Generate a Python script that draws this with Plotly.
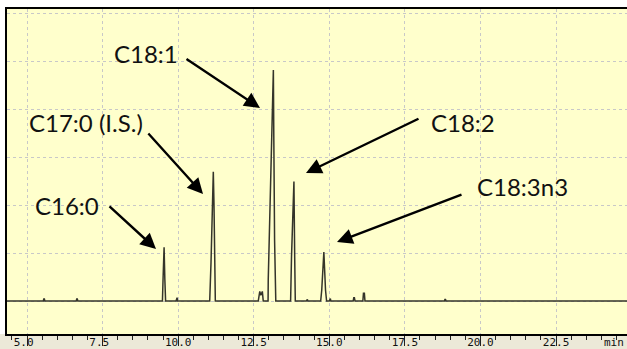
import plotly.graph_objects as go

# ---- data (time in min, signal in grid units) ----
baseline_start = [4.33]
baseline_end = [24.9]

dot1_t = [5.54, 5.555, 5.575, 5.59]
dot1_v = [0, 0.04, 0.04, 0]
dot2_t = [6.63, 6.645, 6.665, 6.68]
dot2_v = [0, 0.04, 0.04, 0]

c16_t = [9.48, 9.50, 9.535, 9.56, 9.585]
c16_v = [0, 0.45, 1.12, 0.45, 0]

dot3_t = [9.93, 9.945, 9.965, 9.98]
dot3_v = [0, 0.07, 0.07, 0]

c17_t = [11.044, 11.087, 11.13, 11.163, 11.186, 11.203, 11.23]
c17_v = [0, 0.8, 2.0, 2.69, 2.0, 0.8, 0]

small_t = [12.65, 12.68, 12.70, 12.735, 12.76, 12.785, 12.815]
small_v = [0, 0.2, 0.2, 0.12, 0.2, 0.2, 0]

c181_t = [12.975, 12.98, 13.005, 13.05, 13.085, 13.15, 13.165, 13.19, 13.23]
c181_v = [0, 0.44, 1.13, 2.17, 3.35, 4.81, 3.35, 1.27, 0]

c182_t = [13.72, 13.75, 13.83, 13.855, 13.875]
c182_v = [0, 0.92, 2.49, 0.92, 0]

dot4_t = [14.24, 14.255, 14.275, 14.29]
dot4_v = [0, 0.03, 0.03, 0]

c183_t = [14.715, 14.75, 14.82, 14.875, 14.91]
c183_v = [0, 0.23, 1.02, 0.23, 0]

dot5_t = [15.0, 15.015, 15.035, 15.05]
dot5_v = [0, 0.05, 0.05, 0]

dot6_t = [15.79, 15.81, 15.83, 15.85]
dot6_v = [0, 0.07, 0.07, 0]

small2_t = [16.11, 16.13, 16.16, 16.18]
small2_v = [0, 0.16, 0.16, 0]

dot7_t = [18.81, 18.825, 18.845, 18.86]
dot7_v = [0, 0.03, 0.03, 0]

tick_vals = [5.0, 7.5, 10.0, 12.5, 15.0, 17.5, 20.0, 22.5]
tick_text = ["5.0\u00a0", "7.5\u00a0", "10.0", "12.5", "15.0", "17.5", "20.0", "22.5"]

peak_labels = ["C16:0", "C17:0 (I.S.)", "C18:1", "C18:2", "C18:3n3"]

# ---- assemble trace ----
segments_t = [baseline_start, dot1_t, dot2_t, c16_t, dot3_t, c17_t, small_t, c181_t,
              c182_t, dot4_t, c183_t, dot5_t, dot6_t, small2_t, dot7_t, baseline_end]
segments_v = [[0], dot1_v, dot2_v, c16_v, dot3_v, c17_v, small_v, c181_v,
              c182_v, dot4_v, c183_v, dot5_v, dot6_v, small2_v, dot7_v, [0]]
t_all, v_all = [], []
for ts, vs in zip(segments_t, segments_v):
    t_all += ts
    v_all += vs

W, H = 627, 349
L, R, T, B = 7, 0, 9, 15
PW, PH = W - L - R, H - T - B

def px(x):
    return (x - L) / PW

def py(y):
    return (H - B - y) / PH

fig = go.Figure()
fig.add_trace(go.Scatter(x=t_all, y=v_all, mode="lines",
                         line=dict(color="#34342a", width=1.5),
                         hoverinfo="skip", showlegend=False))

# text labels (pixel centres)
label_pos = [(67, 205), (86, 122), (146, 54), (463, 122), (522, 186)]
annotations = []
for txt, (x, y) in zip(peak_labels, label_pos):
    annotations.append(dict(text=txt, x=px(x), y=py(y), xref="paper", yref="paper",
                            xanchor="center", yanchor="middle", showarrow=False,
                            font=dict(family="Lato, Carlito, sans-serif", size=24, color="#111")))

# arrows (tail -> head in pixels)
arrows = [((108, 205), (156, 249)), ((147, 132), (203, 194)), ((185, 58), (260, 108)),
          ((420, 118), (306, 173)), ((463, 194), (337, 242))]
for (tx, ty), (hx, hy) in arrows:
    annotations.append(dict(text="", x=px(hx), y=py(hy), xref="paper", yref="paper",
                            ax=tx - hx, ay=ty - hy, axref="pixel", ayref="pixel",
                            showarrow=True, arrowhead=2, arrowsize=1.3, arrowwidth=2.4,
                            arrowcolor="#000", standoff=0))

annotations.append(dict(text="min", x=px(626), y=py(342), xref="paper", yref="paper",
                        xanchor="right", yanchor="middle", showarrow=False,
                        font=dict(family="DejaVu Sans Mono", size=11, color="#111")))

fig.update_layout(
    width=W, height=H,
    margin=dict(l=L, r=R, t=T, b=B, pad=0),
    paper_bgcolor="#ffffff",
    plot_bgcolor="#ffffcc",
    annotations=annotations,
    shapes=[dict(type="rect", xref="paper", yref="paper", x0=-0.05, x1=1.05,
                 y0=py(H), y1=0, fillcolor="#ece9d8", line=dict(width=0), layer="below")],
    xaxis=dict(range=[5 - 20 / 30.23, 5 + 600 / 30.23], tickvals=tick_vals, ticktext=tick_text,
               ticks="outside", ticklen=10, tickwidth=1, tickcolor="#222",
               minor=dict(dtick=0.5, tick0=0, ticks="outside", ticklen=4, tickcolor="#222",
                          showgrid=False),
               ticklabelstandoff=-13,
               tickfont=dict(family="DejaVu Sans Mono", size=11, color="#111"),
               showline=True, linecolor="#000", linewidth=2, mirror=True,
               showgrid=True, gridcolor="#c8c8c8", griddash="3px,3px", gridwidth=1,
               zeroline=False, fixedrange=True, automargin=False),
    yaxis=dict(range=[-(33 / 48), 292 / 48], dtick=1, tick0=0, showticklabels=False,
               ticks="", showline=True, linecolor="#000", linewidth=1.5,
               showgrid=True, gridcolor="#c8c8c8", griddash="3px,3px", gridwidth=1,
               zeroline=False, fixedrange=True, automargin=False),
)

fig.write_html("out.html", config={"displayModeBar": False},
               post_script="document.body.style.margin='0';document.body.style.overflow='hidden';")
